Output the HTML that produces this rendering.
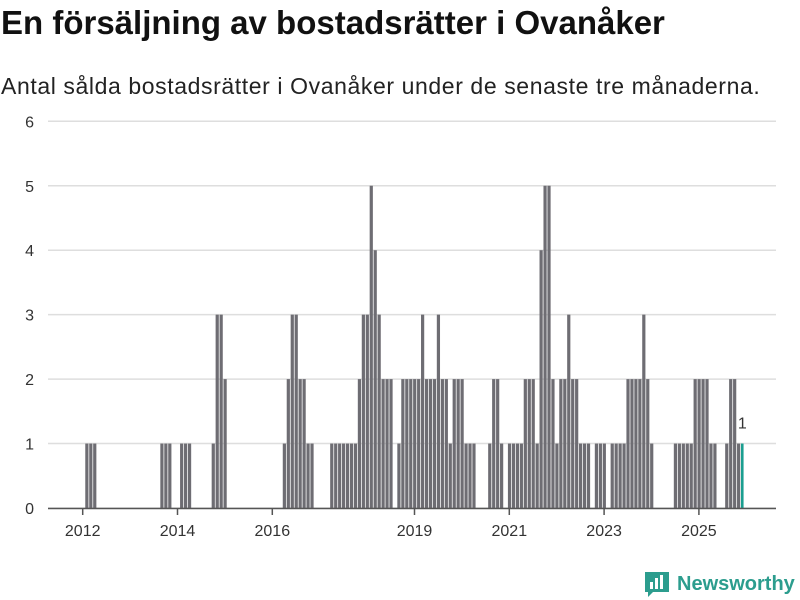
<!DOCTYPE html>
<html><head><meta charset="utf-8"><style>
body{margin:0;width:800px;height:600px;background:#fff;font-family:"Liberation Sans","DejaVu Sans",sans-serif;overflow:hidden;position:relative}
h1{position:absolute;left:1px;top:4px;margin:0;font-size:33px;font-weight:bold;color:#111;letter-spacing:0}
p{position:absolute;left:1px;top:73px;margin:0;font-size:23px;letter-spacing:0.6px;color:#222}
svg{position:absolute;left:0;top:0}
</style></head><body>
<h1>En försäljning av bostadsrätter i Ovanåker</h1>
<p>Antal sålda bostadsrätter i Ovanåker under de senaste tre månaderna.</p>
<svg id="c" width="800" height="600"></svg>
<script>
const values=[1,1,1,0,0,0,0,0,0,0,0,0,0,0,0,0,0,0,0,1,1,1,0,0,1,1,1,0,0,0,0,0,1,3,3,2,
0,0,0,0,0,0,0,0,0,0,0,0,0,0,1,2,3,3,2,2,1,1,0,0,0,0,1,1,1,1,1,1,1,2,3,3,5,4,3,2,2,2,0,1,
2,2,2,2,2,3,2,2,2,3,2,2,1,2,2,2,1,1,1,0,0,0,1,2,2,1,0,1,1,1,1,2,2,2,1,4,5,5,2,1,2,2,3,2,2,
1,1,1,0,1,1,1,0,1,1,1,1,2,2,2,2,3,2,1,0,0,0,0,0,1,1,1,1,1,2,2,2,2,1,1,0,0,1,2,2,1,1];
const yTicks=[0,1,2,3,4,5,6];
const xTickLabels=["2012","2014","2016","2019","2021","2023","2025"];
const xTickMonths=[0,24,48,84,108,132,156];
const lastLabel="1";
const svg=document.getElementById('c');const NS="http://www.w3.org/2000/svg";
const X=m=>82.7+m*3.95, Y=v=>508-v*64.45;
function mk(t,a){const e=document.createElementNS(NS,t);for(const k in a)e.setAttribute(k,a[k]);svg.appendChild(e);return e;}
yTicks.forEach(v=>{
 const g=mk('line',{x1:48,x2:776,y1:Y(v),y2:Y(v),stroke:'#dedede','stroke-width':1.5});
 
 
 const t=mk('text',{x:34,y:Y(v)+6,'text-anchor':'end','font-size':16,fill:'#333'});t.textContent=v;
 
 
});
values.forEach((v,i)=>{
 if(!v)return;
 const last=i===values.length-1;
 const r=mk('rect',{x:X(i+0.65),y:Y(v),width:last?2.6:3.2,height:Y(0)-Y(v),fill:last?'#1b9e90':'#6e6d73'});
 
 
});
const ax=mk('line',{x1:48,x2:776,y1:508.5,y2:508.5,stroke:'#555','stroke-width':1.5});


xTickMonths.forEach((m,i)=>{
 const tk=mk('line',{x1:X(m),x2:X(m),y1:509,y2:515,stroke:'#555','stroke-width':1.5});
 
 
 const t=mk('text',{x:X(m),y:536,'text-anchor':'middle','font-size':16,fill:'#333'});t.textContent=xTickLabels[i];
 
 
});
const n=values.length-1;
const lt=mk('text',{x:X(n+0.65)+1.3,y:Y(values[n])-15,'text-anchor':'middle','font-size':16,fill:'#333'});lt.textContent=lastLabel;


</script>
<div style="position:absolute;left:645px;top:569px;height:30px;display:flex;align-items:center">
<svg width="24" height="28" style="position:static"><path d="M0 2h24v20H8l-5 5v-5H0z" fill="#2c9d8e"/><rect x="5" y="12" width="3" height="7" fill="#fff"/><rect x="10" y="8" width="3" height="11" fill="#fff"/><rect x="15" y="5" width="3" height="14" fill="#fff"/></svg>
<span style="font-size:20px;color:#2c9d8e;margin-left:8px;font-weight:bold">Newsworthy</span></div>
</body></html>
